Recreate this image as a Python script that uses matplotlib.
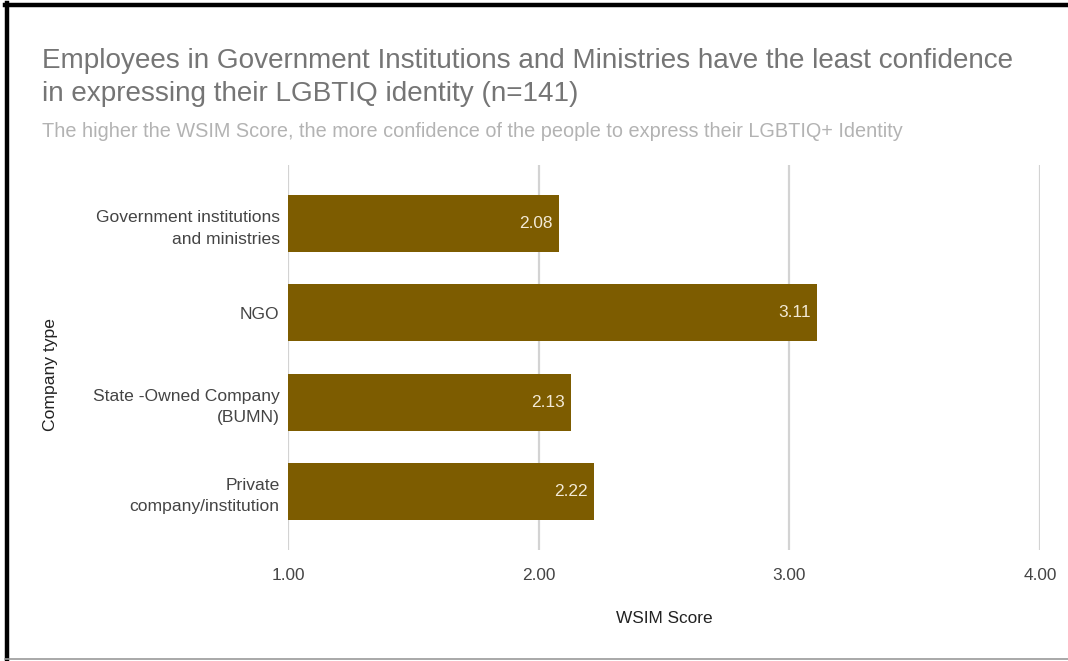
import matplotlib.pyplot as plt
from matplotlib.lines import Line2D

plt.rcParams["font.family"] = ["Liberation Sans", "DejaVu Sans"]

categories = ["Government institutions\nand ministries", "NGO",
              "State -Owned Company\n(BUMN)", "Private\ncompany/institution"]
scores = [2.08, 3.11, 2.13, 2.22]
xticks = [1.0, 2.0, 3.0, 4.0]

BAR = "#7d5c00"
GRID = "#d3d3d3"
TEXT = "#444444"

fig = plt.figure(figsize=(10.68, 6.61), dpi=100)
ax = fig.add_axes([0.2697, 0.168, 0.7041, 0.5824])

ypos = range(len(categories))
bars = ax.barh(ypos, scores, height=0.64, color=BAR, zorder=2)
for b, v in zip(bars, scores):
    ax.text(v - 0.025, b.get_y() + b.get_height() / 2, f"{v:.2f}",
            ha="right", va="center", fontsize=12.4, color="#f3ead6", zorder=3)

ax.set_xlim(1, 4)
ax.set_ylim(3.66, -0.66)
ax.set_xticks(xticks)
ax.set_xticklabels([f"{t:.2f}" for t in xticks], fontsize=12.4, color=TEXT)
ax.set_yticks(list(ypos))
ax.set_yticklabels(categories, fontsize=12.6, color=TEXT, linespacing=1.55)
ax.tick_params(length=0, pad=9)
ax.tick_params(axis="y", pad=6)
ax.tick_params(axis="x", pad=13)
ax.grid(axis="x", color=GRID, linewidth=1.6, zorder=1)
for s in ax.spines.values():
    s.set_visible(False)

ax.set_xlabel("WSIM Score", fontsize=12.4, color="#222222", labelpad=20)
fig.text(0.047, 0.433, "Company type", rotation=90, ha="center", va="center",
         fontsize=12.6, color="#222222")

fig.text(0.039, 0.897, "Employees in Government Institutions and Ministries have the least confidence",
         fontsize=20.1, color="#757575", ha="left", va="baseline")
fig.text(0.039, 0.847, "in expressing their LGBTIQ identity (n=141)",
         fontsize=20.1, color="#757575", ha="left", va="baseline")
fig.text(0.039, 0.792, "The higher the WSIM Score, the more confidence of the people to express their LGBTIQ+ Identity",
         fontsize=14.3, color="#b3b3b3", ha="left", va="baseline")

# outer frame
fig.add_artist(Line2D([7 / 1068, 7 / 1068], [0, 1 - 3 / 661], color="black",
                      linewidth=3.2, transform=fig.transFigure))
fig.add_artist(Line2D([5 / 1068, 1], [1 - 5 / 661, 1 - 5 / 661], color="black",
                      linewidth=3.2, transform=fig.transFigure))
fig.add_artist(Line2D([5 / 1068, 1], [2 / 661, 2 / 661], color="#9a9a9a",
                      linewidth=1.2, transform=fig.transFigure))

fig.savefig("out.png", dpi=100, facecolor="white")
